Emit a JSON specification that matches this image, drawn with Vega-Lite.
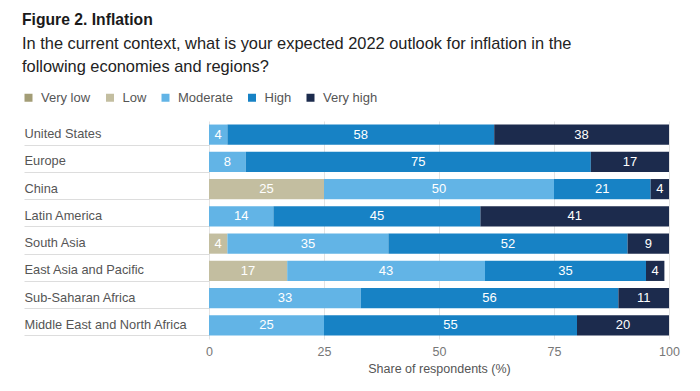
{
  "$schema": "https://vega.github.io/schema/vega-lite/v6.json",
  "width": 460,
  "height": 218,
  "autosize": {"type": "none"},
  "padding": {"left": 209, "top": 121, "right": 31, "bottom": 52},
  "title": {
    "text": "Figure 2. Inflation",
    "subtitle": ["In the current context, what is your expected 2022 outlook for inflation in the", "following economies and regions?"],
    "anchor": "start",
    "frame": "bounds",
    "font": "Liberation Sans",
    "fontSize": 15.7,
    "fontWeight": "bold",
    "color": "#1a1a1a",
    "subtitleFont": "Liberation Sans",
    "subtitleFontSize": 16.4,
    "subtitleColor": "#222222",
    "subtitleLineHeight": 23,
    "subtitlePadding": 7,
    "offset": 15
  },
  "data": {
    "values": [
      {"country": "United States", "category": "Moderate", "level": 3, "value": 4},
      {"country": "United States", "category": "High", "level": 4, "value": 58},
      {"country": "United States", "category": "Very high", "level": 5, "value": 38},
      {"country": "Europe", "category": "Moderate", "level": 3, "value": 8},
      {"country": "Europe", "category": "High", "level": 4, "value": 75},
      {"country": "Europe", "category": "Very high", "level": 5, "value": 17},
      {"country": "China", "category": "Low", "level": 2, "value": 25},
      {"country": "China", "category": "Moderate", "level": 3, "value": 50},
      {"country": "China", "category": "High", "level": 4, "value": 21},
      {"country": "China", "category": "Very high", "level": 5, "value": 4},
      {"country": "Latin America", "category": "Moderate", "level": 3, "value": 14},
      {"country": "Latin America", "category": "High", "level": 4, "value": 45},
      {"country": "Latin America", "category": "Very high", "level": 5, "value": 41},
      {"country": "South Asia", "category": "Low", "level": 2, "value": 4},
      {"country": "South Asia", "category": "Moderate", "level": 3, "value": 35},
      {"country": "South Asia", "category": "High", "level": 4, "value": 52},
      {"country": "South Asia", "category": "Very high", "level": 5, "value": 9},
      {"country": "East Asia and Pacific", "category": "Low", "level": 2, "value": 17},
      {"country": "East Asia and Pacific", "category": "Moderate", "level": 3, "value": 43},
      {"country": "East Asia and Pacific", "category": "High", "level": 4, "value": 35},
      {"country": "East Asia and Pacific", "category": "Very high", "level": 5, "value": 4},
      {"country": "Sub-Saharan Africa", "category": "Moderate", "level": 3, "value": 33},
      {"country": "Sub-Saharan Africa", "category": "High", "level": 4, "value": 56},
      {"country": "Sub-Saharan Africa", "category": "Very high", "level": 5, "value": 11},
      {"country": "Middle East and North Africa", "category": "Moderate", "level": 3, "value": 25},
      {"country": "Middle East and North Africa", "category": "High", "level": 4, "value": 55},
      {"country": "Middle East and North Africa", "category": "Very high", "level": 5, "value": 20}
    ]
  },
  "encoding": {
    "y": {
      "field": "country",
      "type": "nominal",
      "title": null,
      "sort": ["United States", "Europe", "China", "Latin America", "South Asia", "East Asia and Pacific", "Sub-Saharan Africa", "Middle East and North Africa"],
      "scale": {"paddingInner": 0.26, "paddingOuter": 0.13},
      "axis": {"tickOffset": 10, "labelOffset": -11, "tickBand": "center"}
    }
  },
  "layer": [
    {
      "mark": {"type": "bar"},
      "encoding": {
        "x": {
          "field": "value",
          "type": "quantitative",
          "stack": "zero",
          "title": "Share of respondents (%)",
          "scale": {"domain": [0, 100], "nice": false},
          "axis": {"values": [0, 25, 50, 75, 100], "labelFlush": false}
        },
        "color": {
          "field": "category",
          "type": "nominal",
          "scale": {
            "domain": ["Very low", "Low", "Moderate", "High", "Very high"],
            "range": ["#a39d76", "#c3bea0", "#62b4e6", "#1782c5", "#1c2b4d"]
          },
          "legend": {
            "orient": "none",
            "legendX": -187,
            "legendY": -30,
            "direction": "horizontal",
            "title": null,
            "symbolType": "square",
            "symbolSize": 64,
            "symbolStrokeWidth": 0,
            "labelFont": "Liberation Sans",
            "labelFontSize": 13,
            "labelColor": "#555555",
            "labelOffset": 6,
            "columnPadding": 12.5
          }
        },
        "order": {"field": "level", "type": "quantitative"}
      }
    },
    {
      "transform": [
        {"stack": "value", "groupby": ["country"], "sort": [{"field": "level", "order": "ascending"}], "as": ["v0", "v1"]},
        {"fold": ["v0", "v1"], "as": ["edge", "pos"]},
        {"aggregate": [{"op": "mean", "field": "pos", "as": "mid"}, {"op": "max", "field": "value", "as": "label"}], "groupby": ["country", "category"]}
      ],
      "mark": {"type": "text", "color": "white", "font": "Liberation Sans", "fontSize": 13},
      "encoding": {
        "x": {"field": "mid", "type": "quantitative", "title": "Share of respondents (%)", "axis": {"values": [0, 25, 50, 75, 100], "labelFlush": false}},
        "text": {"field": "label", "type": "quantitative"}
      }
    }
  ],
  "config": {
    "view": {"stroke": null},
    "font": "Liberation Sans",
    "axisX": {
      "domain": false,
      "ticks": false,
      "grid": true,
      "gridColor": "#e3e3e3",
      "labelColor": "#777777",
      "labelFontSize": 12.5,
      "labelPadding": 6,
      "titleColor": "#555555",
      "titleFontSize": 12.5,
      "titleFontWeight": "normal",
      "titlePadding": 5
    },
    "axisY": {
      "domain": false,
      "ticks": true,
      "tickSize": 185,
      "tickColor": "#dddddd",
      "labelAlign": "left",
      "labelPadding": 0,
      "labelColor": "#555555",
      "labelFontSize": 12.8,
      "grid": false
    }
  }
}
